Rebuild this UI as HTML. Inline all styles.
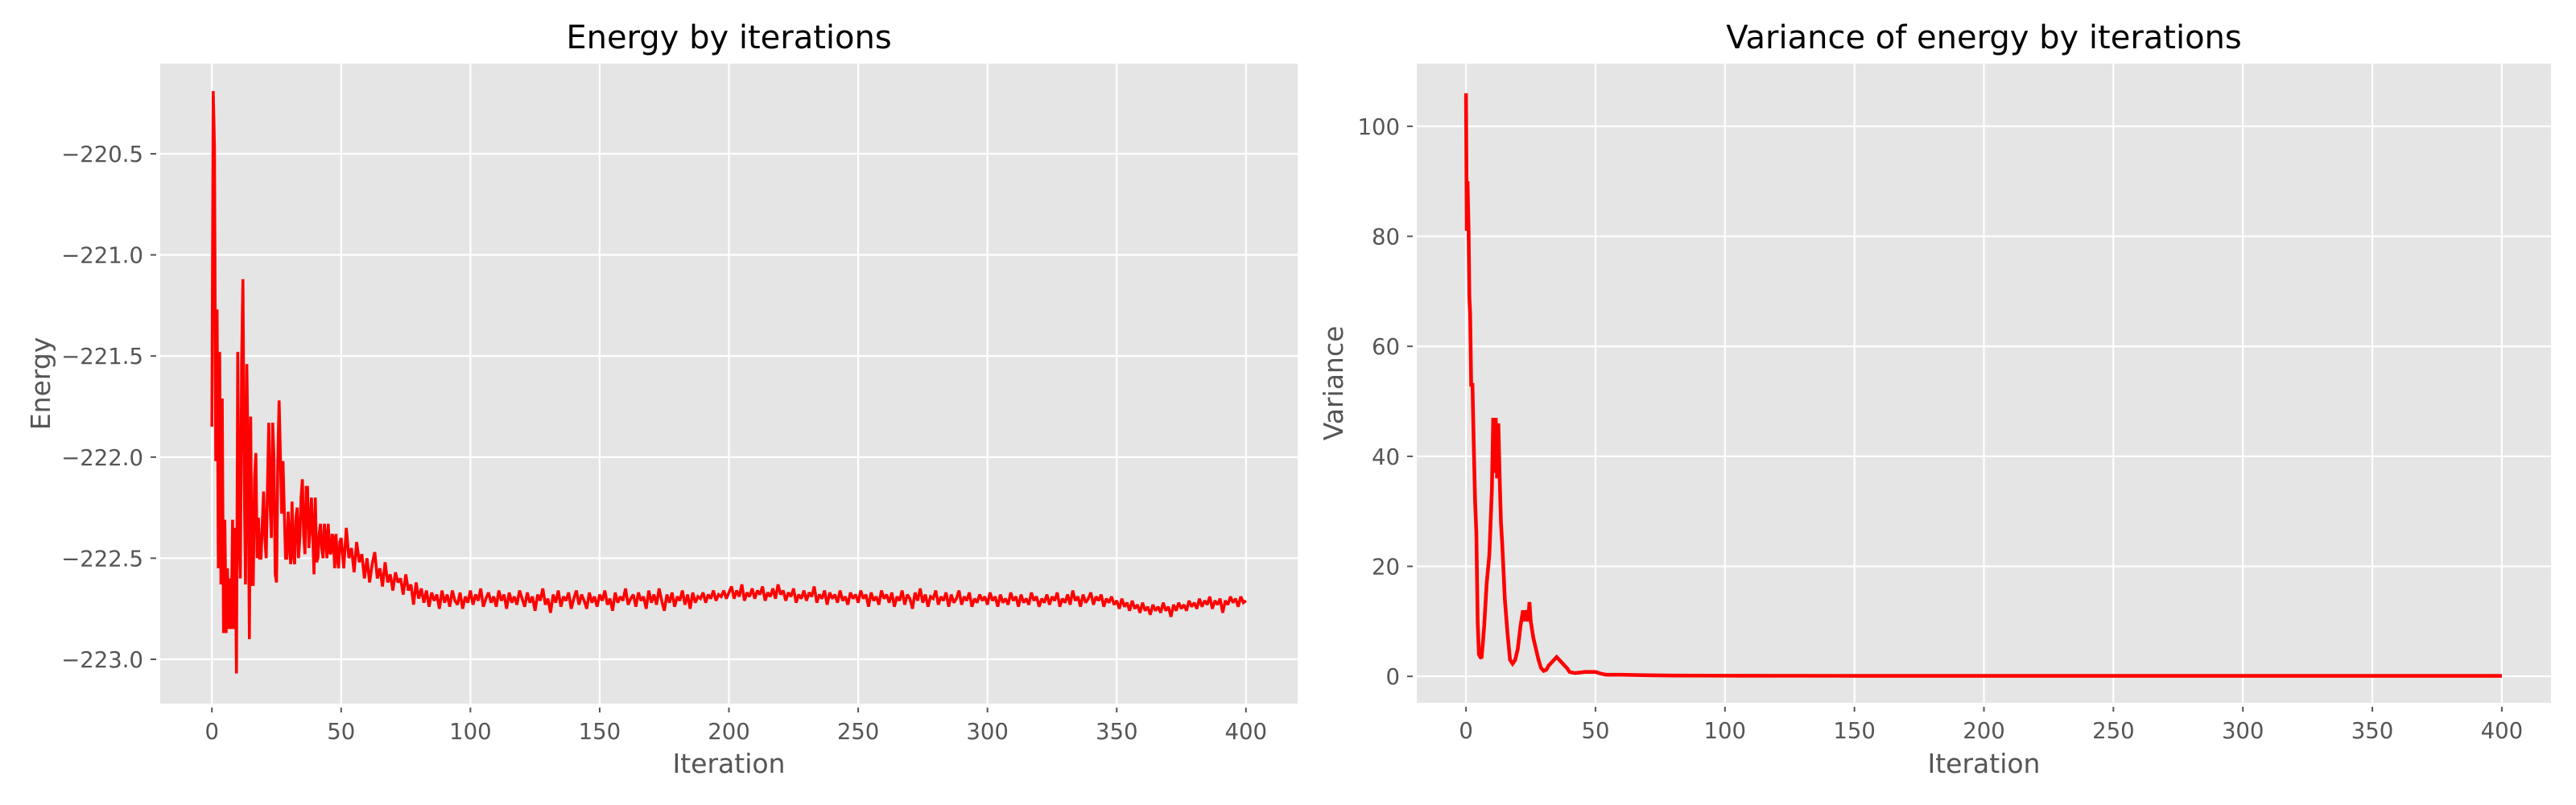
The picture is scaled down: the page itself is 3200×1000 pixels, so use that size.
<!DOCTYPE html>
<html><head><meta charset="utf-8"><style>
html,body{margin:0;padding:0;background:#fff;}
svg{display:block;}
text{font-family:"DejaVu Sans","Liberation Sans",sans-serif;}
</style></head>
<body>
<svg id="fig" width="3200" height="1000" viewBox="0 0 3200 1000" xmlns="http://www.w3.org/2000/svg">
<rect width="3200" height="1000" fill="#fff"/>
<g id="left"></g>
<g id="right"></g>
</svg>
<script>
const xTicks = [0,50,100,150,200,250,300,350,400];
const energyTicks = [-220.5,-221.0,-221.5,-222.0,-222.5,-223.0];
const energyTickLabels = ["\u2212220.5","\u2212221.0","\u2212221.5","\u2212222.0","\u2212222.5","\u2212223.0"];
const varTicks = [0,20,40,60,80,100];
const varTickLabels = ["0","20","40","60","80","100"];
// energy samples every 0.5 iteration for iterations 0-49.5
const energyEarly = [
-221.85,-220.19,-220.47,-222.02,-221.27,-222.55,-221.48,-222.63,-221.71,-222.87,
-222.31,-222.87,-222.55,-222.85,-222.60,-222.85,-222.31,-222.85,-222.35,-223.07,
-221.48,-222.35,-222.60,-221.54,-221.12,-222.10,-222.63,-221.54,-222.00,-222.90,
-221.80,-222.63,-222.63,-222.10,-221.98,-222.50,-222.30,-222.50,-222.50,-222.33,
-222.17,-222.40,-222.50,-222.15,-221.83,-222.22,-222.40,-221.83,-222.00,-222.58,
-222.62,-222.02,-221.72,-222.00,-222.28,-222.02,-222.27,-222.50,-222.50,-222.27,
-222.43,-222.53,-222.22,-222.48,-222.53,-222.30,-222.25,-222.50,-222.40,-222.20,
-222.11,-222.38,-222.48,-222.15,-222.15,-222.45,-222.35,-222.20,-222.38,-222.58,
-222.20,-222.52,-222.50,-222.38,-222.33,-222.45,-222.50,-222.33,-222.40,-222.50,
-222.33,-222.47,-222.48,-222.38,-222.40,-222.55,-222.38,-222.50,-222.55,-222.42];
// energy samples every iteration for iterations 50-400
const energyLate = [
-222.40,-222.55,-222.35,-222.50,-222.45,-222.57,-222.42,-222.52,-222.48,-222.60,
-222.50,-222.62,-222.53,-222.47,-222.60,-222.55,-222.64,-222.52,-222.62,-222.58,
-222.66,-222.57,-222.62,-222.60,-222.68,-222.58,-222.66,-222.63,-222.73,-222.62,
-222.70,-222.65,-222.72,-222.66,-222.74,-222.67,-222.71,-222.68,-222.75,-222.66,
-222.72,-222.68,-222.74,-222.66,-222.71,-222.73,-222.67,-222.75,-222.69,-222.72,
-222.66,-222.73,-222.68,-222.71,-222.65,-222.74,-222.70,-222.67,-222.72,-222.69,
-222.74,-222.66,-222.71,-222.68,-222.75,-222.67,-222.72,-222.69,-222.73,-222.66,
-222.70,-222.74,-222.67,-222.72,-222.69,-222.76,-222.68,-222.71,-222.65,-222.73,
-222.70,-222.77,-222.68,-222.72,-222.66,-222.74,-222.69,-222.71,-222.67,-222.75,
-222.70,-222.66,-222.73,-222.68,-222.71,-222.75,-222.67,-222.72,-222.69,-222.74,
-222.68,-222.71,-222.66,-222.73,-222.70,-222.76,-222.67,-222.72,-222.69,-222.71,
-222.65,-222.73,-222.70,-222.68,-222.74,-222.67,-222.71,-222.69,-222.75,-222.66,
-222.72,-222.68,-222.73,-222.65,-222.71,-222.76,-222.68,-222.72,-222.67,-222.74,
-222.69,-222.71,-222.66,-222.73,-222.68,-222.75,-222.67,-222.72,-222.69,-222.70,
-222.67,-222.72,-222.68,-222.70,-222.66,-222.71,-222.68,-222.69,-222.66,-222.70,
-222.67,-222.64,-222.70,-222.66,-222.69,-222.63,-222.71,-222.67,-222.69,-222.65,
-222.70,-222.66,-222.68,-222.64,-222.71,-222.67,-222.69,-222.65,-222.70,-222.63,
-222.68,-222.66,-222.71,-222.67,-222.69,-222.65,-222.72,-222.68,-222.70,-222.66,
-222.71,-222.67,-222.69,-222.64,-222.72,-222.68,-222.70,-222.66,-222.73,-222.67,
-222.70,-222.68,-222.72,-222.66,-222.71,-222.69,-222.73,-222.67,-222.70,-222.68,
-222.72,-222.66,-222.70,-222.68,-222.74,-222.67,-222.71,-222.69,-222.73,-222.66,
-222.70,-222.68,-222.72,-222.67,-222.74,-222.69,-222.71,-222.66,-222.73,-222.68,
-222.70,-222.75,-222.67,-222.71,-222.65,-222.72,-222.68,-222.74,-222.69,-222.70,
-222.66,-222.73,-222.69,-222.71,-222.67,-222.74,-222.68,-222.72,-222.70,-222.66,
-222.73,-222.69,-222.71,-222.67,-222.74,-222.70,-222.72,-222.68,-222.71,-222.69,
-222.73,-222.67,-222.71,-222.69,-222.74,-222.68,-222.72,-222.70,-222.73,-222.67,
-222.71,-222.69,-222.74,-222.68,-222.72,-222.70,-222.73,-222.67,-222.71,-222.69,
-222.74,-222.70,-222.72,-222.68,-222.73,-222.69,-222.71,-222.67,-222.74,-222.70,
-222.72,-222.68,-222.73,-222.66,-222.71,-222.69,-222.74,-222.68,-222.72,-222.70,
-222.67,-222.73,-222.69,-222.71,-222.68,-222.74,-222.70,-222.72,-222.69,-222.73,
-222.71,-222.75,-222.70,-222.74,-222.72,-222.76,-222.71,-222.75,-222.73,-222.77,
-222.72,-222.76,-222.74,-222.78,-222.73,-222.76,-222.74,-222.77,-222.72,-222.76,
-222.74,-222.79,-222.73,-222.76,-222.72,-222.75,-222.73,-222.76,-222.71,-222.74,
-222.72,-222.75,-222.70,-222.74,-222.71,-222.73,-222.69,-222.75,-222.71,-222.73,
-222.70,-222.77,-222.71,-222.73,-222.69,-222.72,-222.70,-222.74,-222.69,-222.72,
-222.71];
const varIter = [0,0.3,0.6,1,1.3,1.6,2,2.5,3,3.5,4,4.5,5,5.5,6,6.5,7,8,9,10,10.5,11,11.5,12,12.5,13,13.5,14,15,16,17,18,19,20,21,22,22.5,23,24,24.5,25,26,27,28,29,30,31,32,33,34,35,36,37,38,39,40,42,44,46,48,50,52,54,56,60,70,80,100,150,200,250,300,350,400];
const varVal = [106,81,90,81,69,66,53,53,42,32,26,10,4,3.5,3.3,6,9,17,22,34,47,37,47,36,46,36,28,24,14,8,3,2.3,3,5,9,12,10,12,10,13.5,10,7,5,3,1.5,1,1.2,2,2.5,3,3.5,3,2.5,2,1.5,0.8,0.6,0.7,0.8,0.8,0.8,0.5,0.3,0.3,0.3,0.2,0.15,0.12,0.1,0.1,0.1,0.1,0.1,0.1];

const NS = "http://www.w3.org/2000/svg";
function mk(parent, tag, attrs, txt){
  const e = document.createElementNS(NS, tag);
  for (const k in attrs) e.setAttribute(k, attrs[k]);
  if (txt !== undefined) e.textContent = txt;
  parent.appendChild(e);
  return e;
}
function drawChart(g, o){
  const sx = v => o.x0 + (v - o.xmin) / (o.xmax - o.xmin) * (o.x1 - o.x0);
  const sy = v => o.y1 - (v - o.ymin) / (o.ymax - o.ymin) * (o.y1 - o.y0);
  const bg = mk(g, "rect", {x:o.x0, y:o.y0, width:o.x1-o.x0, height:o.y1-o.y0, fill:"#E5E5E5"});
  
  
  xTicks.forEach(t => {
    const X = sx(t);
    const gl = mk(g, "line", {x1:X, x2:X, y1:o.y0, y2:o.y1, stroke:"#fff", "stroke-width":2.2});
    
    
    mk(g, "line", {x1:X, x2:X, y1:o.y1+5, y2:o.y1+11, stroke:"#555", "stroke-width":2});
    const tl = mk(g, "text", {x:X, y:o.y1+44, "text-anchor":"middle", "font-size":27.5, fill:"#555"}, String(t));
    
    
  });
  o.yTicks.forEach((t, i) => {
    const Y = sy(t);
    const gl = mk(g, "line", {x1:o.x0, x2:o.x1, y1:Y, y2:Y, stroke:"#fff", "stroke-width":2.2});
    
    
    mk(g, "line", {x1:o.x0-12, x2:o.x0-5, y1:Y, y2:Y, stroke:"#555", "stroke-width":2});
    const tl = mk(g, "text", {x:o.x0-21, y:Y+10, "text-anchor":"end", "font-size":27.5, fill:"#555"}, o.yLabels[i]);
    
    
  });
  const pts = o.xs.map((x, i) => sx(x).toFixed(2) + "," + sy(o.ys[i]).toFixed(2)).join(" ");
  const line = mk(g, "polyline", {points:pts, fill:"none", stroke:"#ff0000", "stroke-width":o.lw, "stroke-linejoin":"miter", "stroke-miterlimit":2});
  
  
  const title = mk(g, "text", {x:(o.x0+o.x1)/2, y:60, "text-anchor":"middle", "font-size":40, fill:"#000"}, o.title);
  
  
  const xl = mk(g, "text", {x:(o.x0+o.x1)/2, y:960, "text-anchor":"middle", "font-size":33, fill:"#555"}, "Iteration");
  
  
  const cy = (o.y0+o.y1)/2;
  const yl = mk(g, "text", {x:o.ylx, y:cy, "text-anchor":"middle", "font-size":33, fill:"#555", transform:"rotate(-90 "+o.ylx+" "+cy+")"}, o.ylabel);
  
  
}
const eX = [], eY = [];
energyEarly.forEach((v, i) => { eX.push(i * 0.5); eY.push(v); });
energyLate.forEach((v, i) => { eX.push(50 + i); eY.push(v); });
drawChart(document.getElementById("left"), {
  x0:199, x1:1612, y0:79, y1:874, xmin:-20, xmax:420, ymin:-223.219, ymax:-220.054,
  yTicks:energyTicks, yLabels:energyTickLabels, xs:eX, ys:eY, lw:3.6,
  title:"Energy by iterations", ylabel:"Energy", ylx:62, seriesName:"energy-line"
});
drawChart(document.getElementById("right"), {
  x0:1760, x1:3169, y0:79, y1:873, xmin:-19, xmax:419, ymin:-4.8, ymax:111.4,
  yTicks:varTicks, yLabels:varTickLabels, xs:varIter, ys:varVal, lw:4.6,
  title:"Variance of energy by iterations", ylabel:"Variance", ylx:1668, seriesName:"variance-line"
});
</script>
</body></html>
